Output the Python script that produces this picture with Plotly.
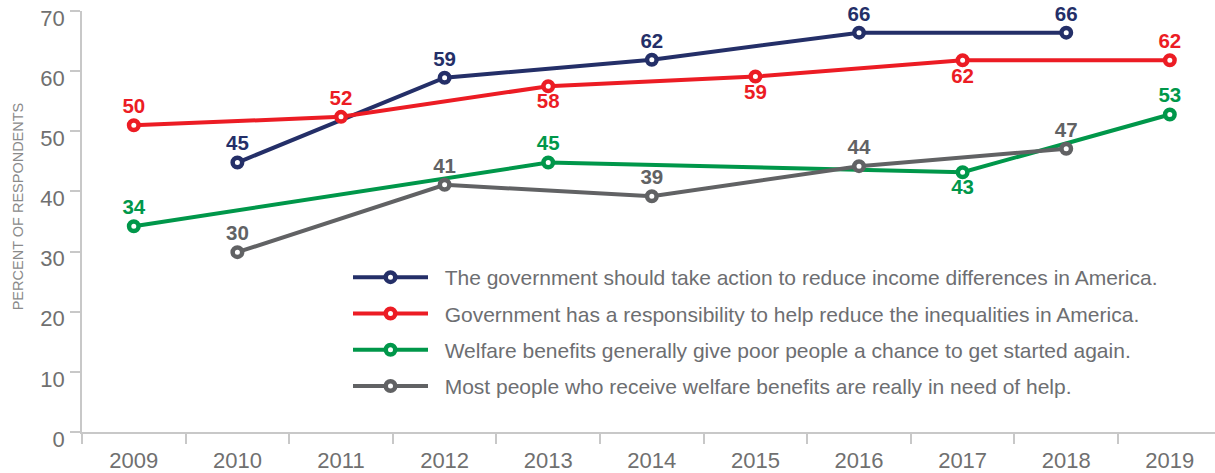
import plotly.graph_objects as go

years = [str(y) for y in range(2009, 2020)]
y_ticks = [0, 10, 20, 30, 40, 50, 60, 70]

gov_action_years = ["2010", "2012", "2014", "2016", "2018"]
gov_action_vals = [44.8, 58.9, 61.9, 66.4, 66.4]
gov_action_labels = ["45", "59", "62", "66", "66"]

gov_resp_years = ["2009", "2011", "2013", "2015", "2017", "2019"]
gov_resp_vals = [51.0, 52.4, 57.5, 59.1, 61.8, 61.8]
gov_resp_labels = ["50", "52", "58", "59", "62", "62"]

welfare_start_years = ["2009", "2013", "2017", "2019"]
welfare_start_vals = [34.2, 44.8, 43.2, 52.8]
welfare_start_labels = ["34", "45", "43", "53"]

welfare_need_years = ["2010", "2012", "2014", "2016", "2018"]
welfare_need_vals = [29.9, 41.1, 39.2, 44.2, 47.1]
welfare_need_labels = ["30", "41", "39", "44", "47"]

series_names = [
    "The government should take action to reduce income differences in America.",
    "Government has a responsibility to help reduce the inequalities in America.",
    "Welfare benefits generally give poor people a chance to get started again.",
    "Most people who receive welfare benefits are really in need of help.",
]

y_title = "PERCENT OF RESPONDENTS"

# styling (kept separate from data)
NAVY, RED, GREEN, GRAY = "#242f68", "#ec1c24", "#00974a", "#616264"
T, B = "top center", "bottom center"
FONT = "Liberation Sans, Arial, sans-serif"
PAD = "\u00a0\u00a0"

series = [
    # (name, x, y, labels, color, label positions, legendrank)
    (series_names[0], gov_action_years, gov_action_vals, gov_action_labels, NAVY, [T] * 5, 1),
    (series_names[2], welfare_start_years, welfare_start_vals, welfare_start_labels, GREEN, [T, T, B, T], 3),
    (series_names[1], gov_resp_years, gov_resp_vals, gov_resp_labels, RED, [T, T, B, B, B, T], 2),
    (series_names[3], welfare_need_years, welfare_need_vals, welfare_need_labels, GRAY, [T] * 5, 4),
]

fig = go.Figure()
for name, xs, ys, labels, color, tpos, rank in series:
    fig.add_trace(go.Scatter(
        x=xs, y=ys, name=PAD + name, mode="lines+markers+text",
        text=labels, textposition=tpos,
        textfont=dict(family=FONT, size=20.5, color=color, weight="bold"),
        line=dict(color=color, width=4),
        marker=dict(symbol="circle", size=9.5, color="white", line=dict(color=color, width=4.5)),
        legendgroup=name, legendrank=rank,
        cliponaxis=False,
    ))

L, R, TOP, BOT = 82, 0, 11, 41
W, H = 1215, 473
plot_w = W - L - R
plot_h = H - TOP - BOT

fig.update_layout(
    width=W, height=H,
    margin=dict(l=L, r=R, t=TOP, b=BOT, autoexpand=False),
    paper_bgcolor="white", plot_bgcolor="white",
    font=dict(family=FONT, color="#707070"),
    showlegend=True,
    legend=dict(
        x=(348 - L) / plot_w, xanchor="left", y=(H - BOT - 257) / plot_h, yanchor="top",
        font=dict(size=21, color="#6d6e71"),
        itemwidth=75, tracegroupgap=6,
        bgcolor="rgba(0,0,0,0)", borderwidth=0,
    ),
    xaxis=dict(
        type="category", categoryorder="array", categoryarray=years,
        range=[-0.5, 10.436], automargin=False,
        tickson="boundaries", ticks="outside", ticklen=10, tickcolor="#c8c8c8", tickwidth=1.5,
        showline=True, linecolor="#c8c8c8", linewidth=1.5,
        showgrid=False, zeroline=False,
        tickfont=dict(size=22, color="#707070"),
        ticklabelstandoff=8,
    ),
    yaxis=dict(
        range=[0, 70], tickmode="array", tickvals=y_ticks, ticktext=[str(v) for v in y_ticks],
        automargin=False,
        ticks="outside", ticklen=10, tickcolor="#c8c8c8", tickwidth=1.5,
        showline=True, linecolor="#c8c8c8", linewidth=1.5,
        showgrid=False, zeroline=False,
        tickfont=dict(size=22, color="#707070"),
        ticklabelshift=7, ticklabelstandoff=1,
    ),
    annotations=[dict(
        text=y_title, textangle=-90, showarrow=False,
        xref="paper", yref="paper",
        x=(18.3 - L) / plot_w, y=(H - BOT - 206) / plot_h,
        xanchor="center", yanchor="middle",
        font=dict(family=FONT, size=14.5, color="#8a8a8a"),
    )],
)

fig.write_html(
    "out.html",
    config={"displayModeBar": False},
    post_script="document.body.style.margin='0';document.body.style.padding='0';",
)
